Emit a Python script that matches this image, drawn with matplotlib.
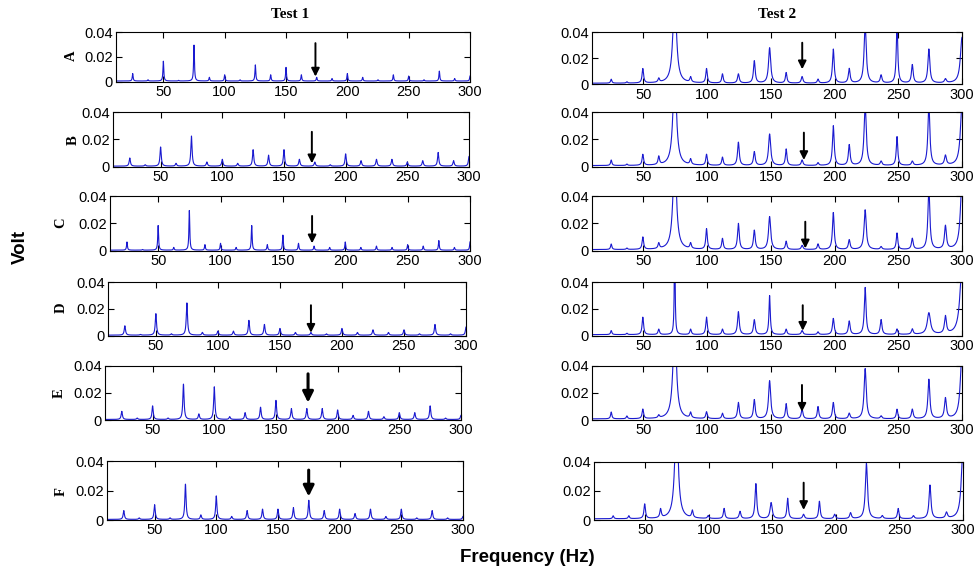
import numpy as np
import matplotlib.pyplot as plt

plt.rcParams['font.family'] = ['Liberation Sans', 'DejaVu Sans']

# harmonic peak frequencies (Hz) seen in each test
freq_test1 = [25, 37.5, 50, 62.5, 75, 87.5, 100, 112.5, 125, 137.5, 150, 162.5,
              175, 187.5, 200, 212.5, 225, 237.5, 250, 262.5, 275, 287.5, 300]
freq_test2 = [24.7, 37, 49.5, 62, 74.5, 87, 99.5, 112, 124.5, 137, 149, 162,
              174.5, 187, 199, 211.5, 224, 236.5, 249, 261, 274, 287, 300]

# peak amplitudes (V), one list per sensor
test1_A = [0.006, 0.001, 0.016, 0.0005, 0.029, 0.003, 0.005, 0.001, 0.013, 0.005, 0.011, 0.005,
           0.003, 0.002, 0.006, 0.003, 0.001, 0.005, 0.004, 0.001, 0.008, 0.002, 0.004]
test1_B = [0.006, 0.001, 0.014, 0.002, 0.022, 0.003, 0.005, 0.002, 0.012, 0.008, 0.012, 0.005,
           0.003, 0.001, 0.009, 0.004, 0.005, 0.005, 0.003, 0.004, 0.010, 0.004, 0.007]
test1_C = [0.006, 0.0005, 0.018, 0.002, 0.029, 0.004, 0.005, 0.002, 0.018, 0.004, 0.011, 0.005,
           0.003, 0.002, 0.006, 0.002, 0.003, 0.002, 0.004, 0.003, 0.007, 0.002, 0.006]
test1_D = [0.007, 0.0005, 0.016, 0.001, 0.024, 0.002, 0.003, 0.003, 0.011, 0.008, 0.005, 0.002,
           0.002, 0.001, 0.005, 0.002, 0.004, 0.002, 0.004, 0.001, 0.008, 0.001, 0.006]
test1_E = [0.006, 0.001, 0.010, 0.001, 0.026, 0.004, 0.024, 0.002, 0.005, 0.009, 0.014, 0.008,
           0.008, 0.008, 0.007, 0.003, 0.006, 0.002, 0.005, 0.005, 0.010, 0.001, 0.003]
test1_F = [0.006, 0.001, 0.010, 0.001, 0.024, 0.003, 0.016, 0.002, 0.006, 0.007, 0.007, 0.008,
           0.013, 0.006, 0.007, 0.004, 0.007, 0.002, 0.007, 0.001, 0.006, 0.001, 0.002]

test2_A = [0.003, 0.001, 0.011, 0.003, 0.07, 0.004, 0.011, 0.007, 0.007, 0.017, 0.027, 0.008,
           0.005, 0.003, 0.026, 0.011, 0.045, 0.006, 0.045, 0.014, 0.026, 0.003, 0.035]
test2_B = [0.004, 0.001, 0.008, 0.006, 0.07, 0.004, 0.008, 0.006, 0.017, 0.010, 0.023, 0.012,
           0.004, 0.002, 0.029, 0.015, 0.045, 0.003, 0.021, 0.003, 0.045, 0.007, 0.045]
test2_C = [0.004, 0.001, 0.009, 0.004, 0.07, 0.004, 0.015, 0.008, 0.019, 0.014, 0.024, 0.006,
           0.003, 0.004, 0.027, 0.007, 0.029, 0.002, 0.012, 0.008, 0.045, 0.017, 0.05]
test2_D = [0.003, 0.001, 0.013, 0.004, 0.07, 0.004, 0.013, 0.004, 0.017, 0.011, 0.029, 0.004,
           0.003, 0.002, 0.012, 0.010, 0.035, 0.011, 0.004, 0.004, 0.016, 0.013, 0.05]
test2_E = [0.005, 0.002, 0.007, 0.002, 0.07, 0.004, 0.005, 0.004, 0.012, 0.014, 0.028, 0.011,
           0.007, 0.009, 0.012, 0.004, 0.037, 0.002, 0.007, 0.007, 0.029, 0.015, 0.05]
test2_F = [0.002, 0.002, 0.010, 0.006, 0.07, 0.005, 0.002, 0.007, 0.005, 0.024, 0.011, 0.014,
           0.003, 0.012, 0.003, 0.004, 0.038, 0.002, 0.007, 0.002, 0.023, 0.004, 0.05]

# half widths of the peaks (Hz)
width_test1 = [0.4, 0.6, 0.4, 0.6, 0.6, 0.6]
width_test2 = [0.6, 0.6, 0.7, 0.7, 1.6, 0.7, 0.7, 0.7, 0.8, 0.8, 1.0, 0.7,
               0.8, 0.7, 0.8, 0.8, 1.0, 0.8, 0.7, 0.8, 0.9, 0.9, 1.5]
width_test2_D = [0.6, 0.6, 0.7, 0.7, 0.4, 0.7, 0.7, 0.7, 0.8, 0.8, 0.6, 0.7,
                 0.8, 0.7, 0.8, 0.8, 0.8, 0.8, 0.7, 0.8, 1.5, 0.9, 2.0]

sensors = ['A', 'B', 'C', 'D', 'E', 'F']
test1 = [test1_A, test1_B, test1_C, test1_D, test1_E, test1_F]
test2 = [test2_A, test2_B, test2_C, test2_D, test2_E, test2_F]

# arrow marking the 175 Hz component: x, tail and tip height
arrow_test1 = [(174, 0.031, 0.004), (172.6, 0.0255, 0.0025), (173.4, 0.0254, 0.0054),
               (175, 0.0227, 0.0022), (176, 0.034, 0.0128), (174.9, 0.034, 0.016)]
arrow_test2 = [(174.6, 0.0318, 0.0115), (175.9, 0.0249, 0.0049), (177, 0.0212, 0.0017),
               (175, 0.0227, 0.0037), (174.4, 0.0258, 0.0061), (174.6, 0.0256, 0.0069)]

xticks = [50, 100, 150, 200, 250, 300]
yticks = [0, 0.02, 0.04]
ytick_labels = ['0', '0.02', '0.04']

# axes boxes in pixels: left, right, top, bottom
W, H = 976, 575
boxes_left = [(116, 470, 32, 81.5), (113, 469, 112, 166.7), (110, 470, 196, 250.7),
              (108, 466, 282, 335.7), (105, 461, 365.7, 420), (107, 463, 461.3, 520)]
boxes_right = [(592, 962, 32, 84.3), (592, 962, 112, 166.7), (592, 962, 196, 250.7),
               (592, 962, 282, 335.7), (592, 962, 365.7, 420), (594, 963, 461.7, 520)]
label_pos = [(71, 56), (73, 140), (61, 223), (61, 308), (59, 393), (61, 491)]

f = np.arange(0, 300.05, 0.1)


def spectrum(freqs, heights, widths, base):
    s = np.full_like(f, base)
    for f0, h, w in zip(freqs, heights, widths):
        s += h / (1 + ((f - f0) / w) ** 2)
    return s


def make_axes(fig, box):
    l, r, t, b = box
    return fig.add_axes([l / W, 1 - b / H, (r - l) / W, (b - t) / H])


def style(ax, xmin):
    ax.set_xlim(xmin, 300)
    ax.set_ylim(0, 0.04)
    ax.set_xticks(xticks)
    ax.set_yticks(yticks)
    ax.set_yticklabels(ytick_labels)
    ax.tick_params(direction='in', top=True, right=True, length=4, width=0.8,
                   labelsize=10.5, pad=2.5)
    for sp in ax.spines.values():
        sp.set_linewidth(0.8)


fig = plt.figure(figsize=(9.76, 5.75), dpi=100)
line_color = '#1a1ad0'

for i in range(6):
    ax = make_axes(fig, boxes_left[i])
    w = [width_test1[i]] * len(freq_test1)
    ax.plot(f, spectrum(freq_test1, test1[i], w, 0.0004), color=line_color, lw=0.8)
    style(ax, 11.4)
    x, y0, y1 = arrow_test1[i]
    thick = i >= 4
    ax.annotate('', xy=(x, y1), xytext=(x, y0),
                arrowprops=dict(arrowstyle='-|>', color='k', lw=2.2 if thick else 1.4,
                                mutation_scale=16 if thick else 12, shrinkA=0, shrinkB=0))

    ax2 = make_axes(fig, boxes_right[i])
    w2 = width_test2_D if sensors[i] == 'D' else width_test2
    ax2.plot(f, spectrum(freq_test2, test2[i], w2, 0.0008), color=line_color, lw=0.8)
    style(ax2, 9.6)
    x, y0, y1 = arrow_test2[i]
    ax2.annotate('', xy=(x, y1), xytext=(x, y0),
                 arrowprops=dict(arrowstyle='-|>', color='k', lw=1.4,
                                 mutation_scale=12, shrinkA=0, shrinkB=0))

    lx, ly = label_pos[i]
    fig.text(lx / W, 1 - ly / H, sensors[i], rotation=90, ha='center', va='center',
             family='Liberation Serif', fontweight='bold', fontsize=10.5)

fig.text(290 / W, 1 - 15 / H, 'Test 1', ha='center', va='center',
         family='Liberation Serif', fontweight='bold', fontsize=11)
fig.text(777 / W, 1 - 15 / H, 'Test 2', ha='center', va='center',
         family='Liberation Serif', fontweight='bold', fontsize=11)
fig.text(20 / W, 1 - 247 / H, 'Volt', rotation=90, ha='center', va='center',
         fontweight='bold', fontsize=13.5)
fig.text(527 / W, 1 - 557 / H, 'Frequency (Hz)', ha='center', va='center',
         fontweight='bold', fontsize=13.5)

fig.savefig('out.png', dpi=100)
